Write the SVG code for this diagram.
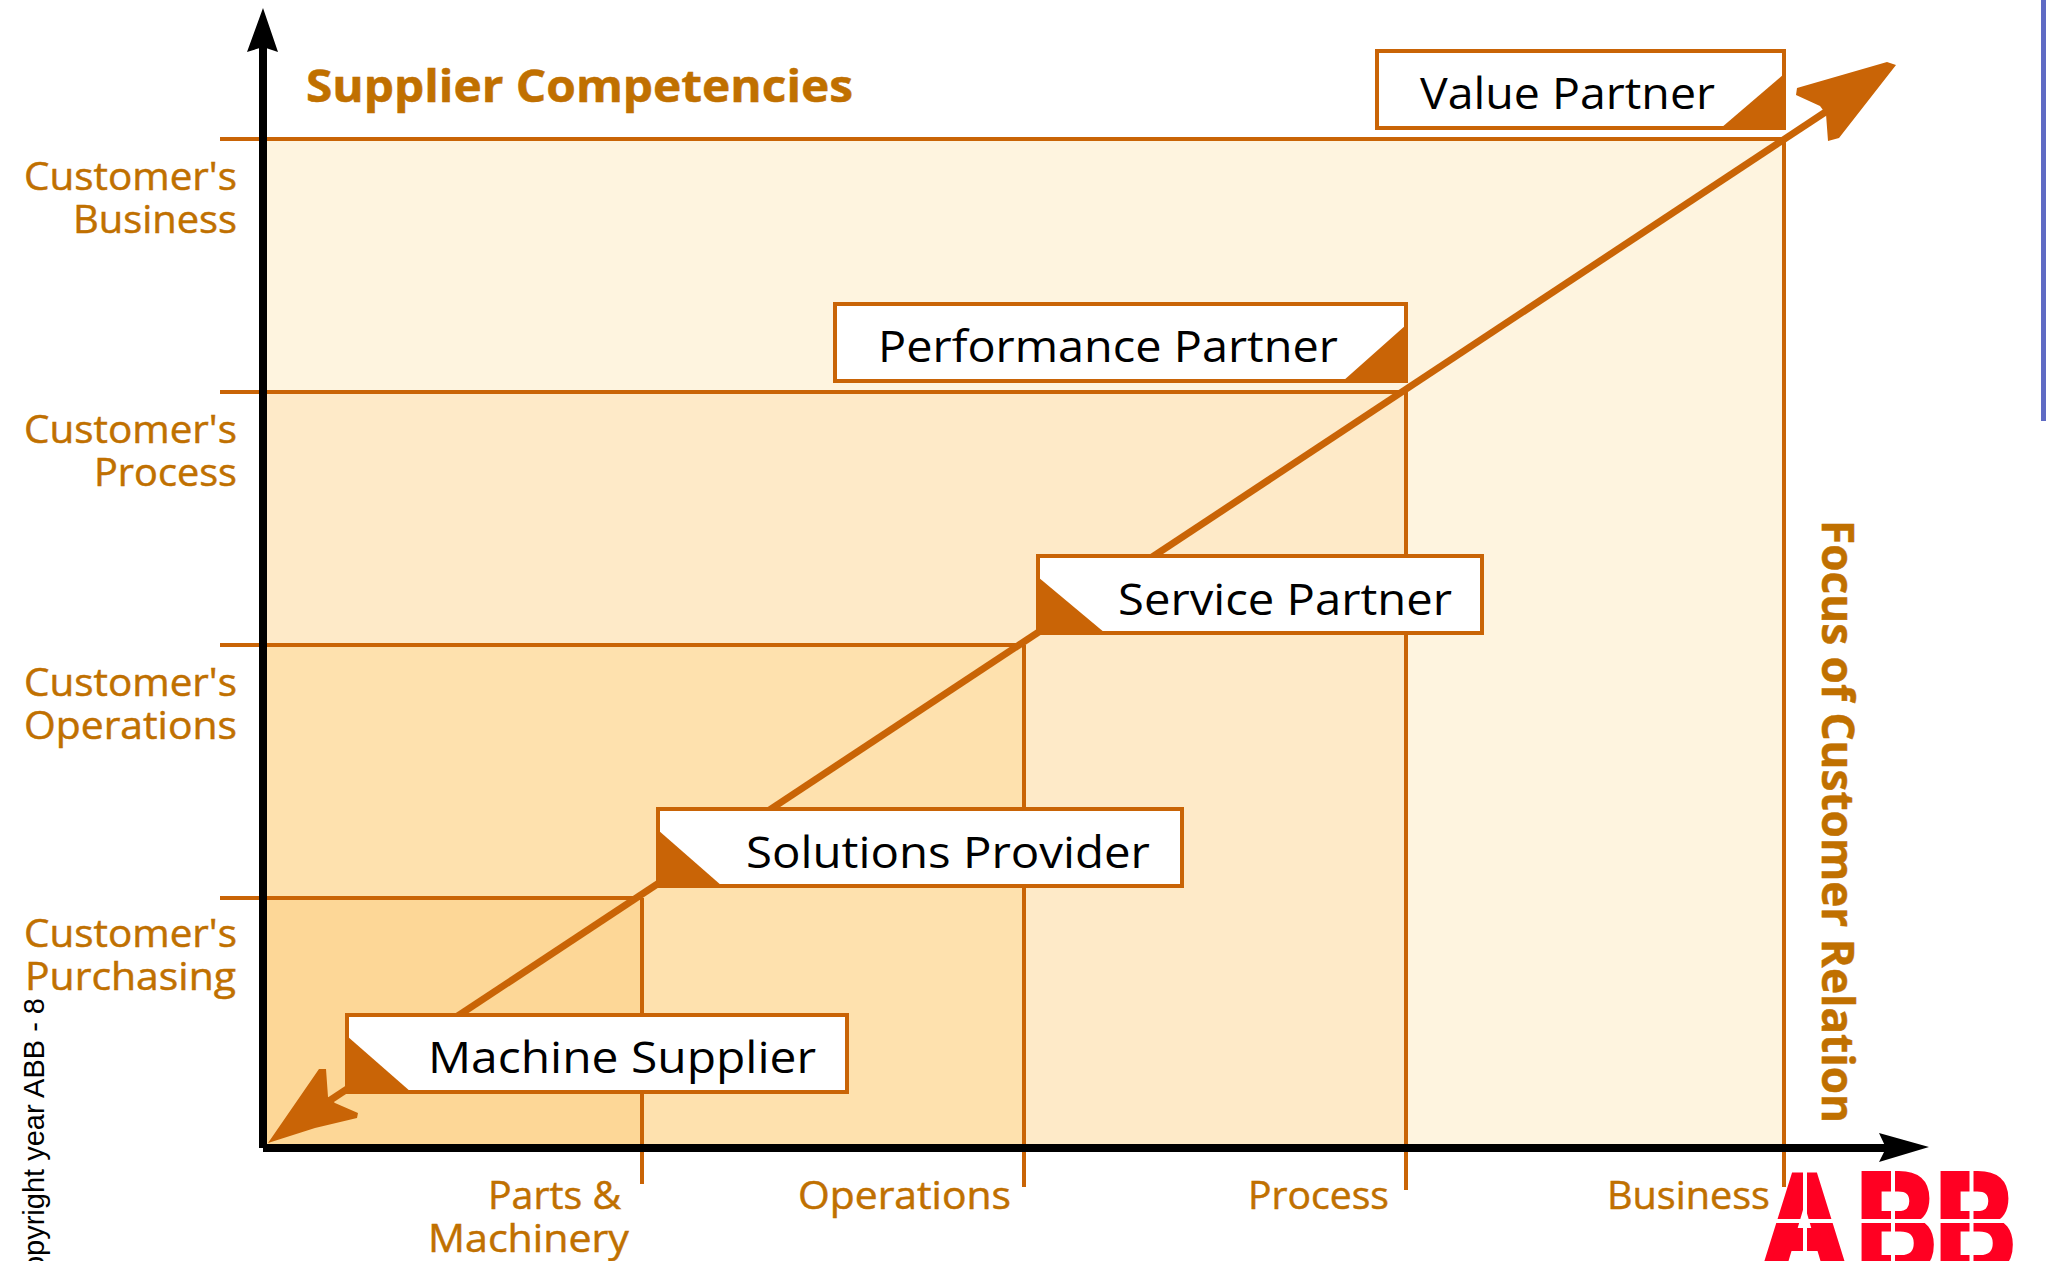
<svg xmlns="http://www.w3.org/2000/svg" width="2046" height="1261" viewBox="0 0 2046 1261">
<style>
.l{fill:none;stroke:#C96406;stroke-width:4}
.box{fill:#fff;stroke:#C96406;stroke-width:4}
.tri{fill:#C96406}
.lab{font-family:"Open Sans","Noto Sans",sans-serif;font-size:39px;fill:#C07000;stroke:#C07000;stroke-width:.5}
.bold{font-family:"Open Sans","Noto Sans",sans-serif;font-weight:700;font-size:45px;fill:#C07000;stroke:#C07000;stroke-width:.5}
.name{font-family:"Open Sans","Noto Sans",sans-serif;font-size:44px;fill:#000}
.logo{font-family:"Liberation Sans",Arial,sans-serif;font-weight:700;font-size:145px;fill:#FF0022;stroke:#FF0022;stroke-width:5}
</style>
<rect width="2046" height="1261" fill="#fff"/>
<g id="bands">
<rect x="263" y="139" width="1521" height="1009" fill="#FEF4DF"/>
<rect x="263" y="392" width="1143" height="756" fill="#FEEAC8"/>
<rect x="263" y="645" width="761" height="503" fill="#FEE1AE"/>
<rect x="263" y="898" width="379" height="250" fill="#FDD797"/>
</g>
<g id="connectors">
<path class="l" d="M220 139H1784M220 392H1406M220 645H1024M220 898H642"/>
<path class="l" d="M1784 139V1187M1406 392V1190M1024 645V1187M642 898V1184"/>
<path d="M329 1101L1830 109" fill="none" stroke="#C96406" stroke-width="7"/>
<polygon class="tri" points="1797,88 1796,95 1820,106 1826,114 1828,141 1839,138 1896,65 1887,62"/>
<polygon class="tri" points="268,1143 319,1069 326,1069 328,1097 335,1103 358,1113 357,1118 315,1128"/>
<path d="M263 1148V40M263 1148H1900" fill="none" stroke="#000" stroke-width="8"/>
<polygon points="263,8 278,52 263,47 247,52" fill="#000"/>
<polygon points="1929,1147 1879,1162 1886,1148 1879,1133" fill="#000"/>
</g>
<g id="value-partner">
<rect class="box" x="1377" y="51" width="407" height="77"/>
<polygon class="tri" points="1721,128 1784,74 1784,128"/>
<text class="name" x="1420" y="109" textLength="295" lengthAdjust="spacingAndGlyphs">Value Partner</text>
</g>
<g id="performance-partner">
<rect class="box" x="835" y="304" width="571" height="77"/>
<polygon class="tri" points="1343,381 1406,325 1406,381"/>
<text class="name" x="878" y="362" textLength="460" lengthAdjust="spacingAndGlyphs">Performance Partner</text>
</g>
<g id="service-partner">
<rect class="box" x="1038" y="556" width="444" height="77"/>
<polygon class="tri" points="1038,577 1105,633 1038,633"/>
<text class="name" x="1118" y="615" textLength="334" lengthAdjust="spacingAndGlyphs">Service Partner</text>
</g>
<g id="solutions-provider">
<rect class="box" x="658" y="809" width="524" height="77"/>
<polygon class="tri" points="658,830 722,886 658,886"/>
<text class="name" x="746" y="868" textLength="404" lengthAdjust="spacingAndGlyphs">Solutions Provider</text>
</g>
<g id="machine-supplier">
<rect class="box" x="347" y="1015" width="500" height="77"/>
<polygon class="tri" points="347,1036 411,1092 347,1092"/>
<text class="name" x="428" y="1073" textLength="388" lengthAdjust="spacingAndGlyphs">Machine Supplier</text>
</g>
<g id="y-labels" text-anchor="end">
<text class="lab" x="237" y="190" textLength="213" lengthAdjust="spacingAndGlyphs">Customer's</text>
<text class="lab" x="237" y="233" textLength="164" lengthAdjust="spacingAndGlyphs">Business</text>
<text class="lab" x="237" y="443" textLength="213" lengthAdjust="spacingAndGlyphs">Customer's</text>
<text class="lab" x="237" y="486" textLength="143" lengthAdjust="spacingAndGlyphs">Process</text>
<text class="lab" x="237" y="696" textLength="213" lengthAdjust="spacingAndGlyphs">Customer's</text>
<text class="lab" x="237" y="739" textLength="213" lengthAdjust="spacingAndGlyphs">Operations</text>
<text class="lab" x="237" y="947" textLength="213" lengthAdjust="spacingAndGlyphs">Customer's</text>
<text class="lab" x="236" y="990" textLength="211" lengthAdjust="spacingAndGlyphs">Purchasing</text>
</g>
<g id="x-labels">
<text class="lab" x="488" y="1209" textLength="133" lengthAdjust="spacingAndGlyphs">Parts &amp;</text>
<text class="lab" x="428" y="1252" textLength="201" lengthAdjust="spacingAndGlyphs">Machinery</text>
<text class="lab" x="798" y="1209" textLength="213" lengthAdjust="spacingAndGlyphs">Operations</text>
<text class="lab" x="1248" y="1209" textLength="141" lengthAdjust="spacingAndGlyphs">Process</text>
<text class="lab" x="1607" y="1209" textLength="163" lengthAdjust="spacingAndGlyphs">Business</text>
</g>
<g id="titles">
<text class="bold" x="306" y="102" textLength="547" lengthAdjust="spacingAndGlyphs">Supplier Competencies</text>
<text class="bold" transform="translate(1822 520) rotate(90)" textLength="603" lengthAdjust="spacingAndGlyphs">Focus of Customer Relation</text>
</g>
<text id="copyright" transform="translate(44 998) rotate(-90)" text-anchor="end" font-family="Liberation Sans, Arial, sans-serif" font-size="29" fill="#000">Copyright year ABB - 8</text>
<g id="abb-logo">
<text class="logo" x="1762" y="1271" textLength="85" lengthAdjust="spacingAndGlyphs" style="font-size:137px;stroke-width:8">A</text>
<text class="logo" x="1856" y="1273" textLength="81" lengthAdjust="spacingAndGlyphs">B</text>
<text class="logo" x="1935" y="1273" textLength="81" lengthAdjust="spacingAndGlyphs">B</text>
<path d="M1750 1221H2020M1805 1165V1265M1893 1165V1265M1971.5 1165V1265" stroke="#fff" stroke-width="4" fill="none"/>
</g>
<rect id="edge" x="2041" y="0" width="5" height="421" fill="#5F6BC4"/>
</svg>
